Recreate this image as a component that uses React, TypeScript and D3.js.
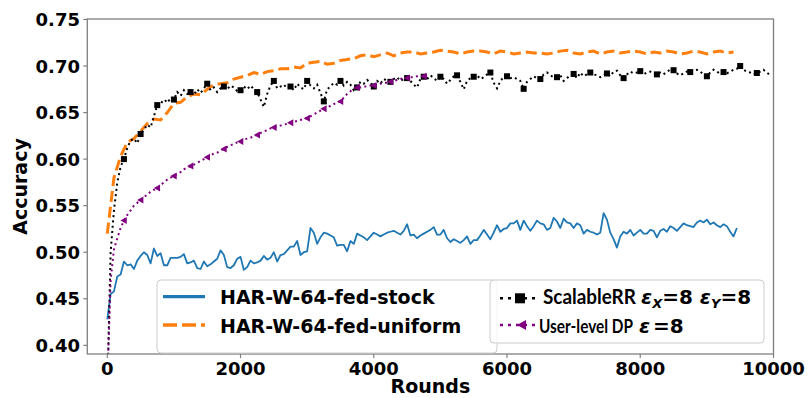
import React, { useLayoutEffect, useRef, useState } from "react";
import * as d3 from "d3";

const W = 809;
const H = 398;

const STEP_FINE = 50;
const STEP_ORANGE = 100;

const stockValues = [
  0.428, 0.455, 0.458, 0.474, 0.476, 0.490, 0.486, 0.487, 0.482, 0.491,
  0.496, 0.500, 0.497, 0.488, 0.504, 0.496, 0.499, 0.486, 0.486, 0.494,
  0.494, 0.494, 0.495, 0.498, 0.488, 0.489, 0.491, 0.483, 0.482, 0.490,
  0.485, 0.487, 0.490, 0.493, 0.502, 0.497, 0.484, 0.483, 0.486, 0.493,
  0.495, 0.481, 0.484, 0.491, 0.488, 0.489, 0.491, 0.496, 0.492, 0.494,
  0.500, 0.490, 0.497, 0.498, 0.502, 0.506, 0.506, 0.512, 0.497, 0.500,
  0.501, 0.526, 0.521, 0.509, 0.516, 0.521, 0.520, 0.518, 0.516, 0.507,
  0.508, 0.508, 0.501, 0.512, 0.509, 0.520, 0.518, 0.516, 0.513, 0.517,
  0.521, 0.519, 0.517, 0.519, 0.521, 0.522, 0.523, 0.521, 0.519, 0.523,
  0.530, 0.518, 0.519, 0.515, 0.518, 0.520, 0.522, 0.524, 0.527, 0.519,
  0.519, 0.524, 0.515, 0.511, 0.514, 0.512, 0.510, 0.513, 0.517, 0.509,
  0.513, 0.513, 0.518, 0.524, 0.519, 0.514, 0.521, 0.529, 0.522, 0.525,
  0.526, 0.531, 0.531, 0.534, 0.524, 0.534, 0.528, 0.523, 0.528, 0.534,
  0.531, 0.530, 0.524, 0.526, 0.537, 0.533, 0.526, 0.536, 0.532, 0.531,
  0.526, 0.531, 0.529, 0.520, 0.524, 0.522, 0.521, 0.519, 0.521, 0.542,
  0.535, 0.521, 0.514, 0.505, 0.517, 0.522, 0.520, 0.524, 0.518, 0.521,
  0.524, 0.520, 0.520, 0.524, 0.523, 0.516, 0.523, 0.525, 0.522, 0.528,
  0.526, 0.523, 0.527, 0.531, 0.529, 0.528, 0.527, 0.532, 0.534, 0.532,
  0.535, 0.530, 0.532, 0.529, 0.527, 0.530, 0.528, 0.522, 0.517, 0.526,
];

const uniformValues = [
  0.520, 0.580, 0.603, 0.618, 0.622, 0.630, 0.638, 0.643, 0.642, 0.650,
  0.660, 0.661, 0.667, 0.670, 0.669, 0.675, 0.680, 0.681, 0.682, 0.686,
  0.688, 0.690, 0.693, 0.691, 0.694, 0.695, 0.697, 0.697, 0.699, 0.698,
  0.703, 0.704, 0.705, 0.702, 0.703, 0.706, 0.707, 0.708, 0.711, 0.712,
  0.710, 0.712, 0.714, 0.711, 0.714, 0.715, 0.715, 0.713, 0.714, 0.715,
  0.717, 0.716, 0.715, 0.713, 0.715, 0.716, 0.716, 0.715, 0.713, 0.716,
  0.715, 0.713, 0.714, 0.715, 0.714, 0.714, 0.713, 0.714, 0.716, 0.717,
  0.714, 0.713, 0.715, 0.716, 0.713, 0.715, 0.716, 0.714, 0.715, 0.716,
  0.715, 0.713, 0.715, 0.714, 0.716, 0.715, 0.713, 0.714, 0.716, 0.715,
  0.713, 0.715, 0.716, 0.714, 0.715,
];

const scalableValues = [
  0.350, 0.500, 0.545, 0.575, 0.592, 0.600, 0.612, 0.620, 0.622, 0.617,
  0.627, 0.632, 0.637, 0.634, 0.646, 0.658, 0.662, 0.660, 0.665, 0.661,
  0.664, 0.672, 0.668, 0.674, 0.670, 0.672, 0.669, 0.675, 0.671, 0.676,
  0.681, 0.674, 0.677, 0.672, 0.676, 0.678, 0.675, 0.679, 0.677, 0.673,
  0.674, 0.678, 0.675, 0.679, 0.675, 0.672, 0.664, 0.656, 0.670, 0.679,
  0.684, 0.676, 0.678, 0.680, 0.676, 0.678, 0.674, 0.681, 0.677, 0.675,
  0.684, 0.679, 0.676, 0.680, 0.671, 0.662, 0.675, 0.678, 0.682, 0.680,
  0.684, 0.679, 0.683, 0.680, 0.674, 0.677, 0.683, 0.681, 0.685, 0.682,
  0.678, 0.684, 0.681, 0.686, 0.684, 0.683, 0.686, 0.688, 0.684, 0.686,
  0.687, 0.684, 0.680, 0.677, 0.686, 0.6885, 0.686, 0.690, 0.687, 0.684,
  0.6885, 0.686, 0.681, 0.685, 0.689, 0.690, 0.683, 0.675, 0.684, 0.687,
  0.6885, 0.690, 0.686, 0.688, 0.691, 0.693, 0.682, 0.676, 0.684, 0.688,
  0.689, 0.687, 0.688, 0.686, 0.684, 0.6755, 0.683, 0.686, 0.689, 0.687,
  0.686, 0.691, 0.693, 0.690, 0.688, 0.688, 0.690, 0.684, 0.687, 0.690,
  0.6915, 0.687, 0.693, 0.689, 0.691, 0.693, 0.691, 0.690, 0.688, 0.690,
  0.692, 0.689, 0.694, 0.695, 0.690, 0.687, 0.691, 0.694, 0.692, 0.693,
  0.6945, 0.691, 0.693, 0.694, 0.692, 0.691, 0.693, 0.691, 0.694, 0.696,
  0.6955, 0.692, 0.690, 0.692, 0.694, 0.6935, 0.695, 0.696, 0.694, 0.691,
  0.689, 0.693, 0.696, 0.694, 0.692, 0.6935, 0.692, 0.694, 0.696, 0.697,
  0.700, 0.696, 0.694, 0.693, 0.691, 0.6925, 0.694, 0.696, 0.693, 0.690,
];

const userDpValues = [
  0.360, 0.470, 0.503, 0.515, 0.526, 0.534, 0.540, 0.545, 0.550, 0.553,
  0.556, 0.559, 0.562, 0.565, 0.567, 0.569, 0.572, 0.575, 0.578, 0.580,
  0.582, 0.584, 0.586, 0.589, 0.591, 0.5925, 0.594, 0.596, 0.598, 0.600,
  0.602, 0.604, 0.606, 0.607, 0.609, 0.611, 0.613, 0.615, 0.616, 0.618,
  0.619, 0.621, 0.622, 0.623, 0.625, 0.626, 0.628, 0.630, 0.631, 0.633,
  0.634, 0.635, 0.636, 0.637, 0.638, 0.639, 0.640, 0.641, 0.642, 0.643,
  0.644, 0.646, 0.648, 0.650, 0.652, 0.654, 0.656, 0.657, 0.659, 0.661,
  0.662, 0.666, 0.670, 0.673, 0.676, 0.677, 0.677, 0.678, 0.678, 0.679,
  0.679, 0.680, 0.681, 0.682, 0.682, 0.683, 0.684, 0.685, 0.686, 0.687,
  0.687, 0.688, 0.688, 0.689, 0.689, 0.689, 0.690,
];

const MARK_EVERY = 5;

const xTicks = [0, 2000, 4000, 6000, 8000, 10000];
const yTicks = [0.40, 0.45, 0.50, 0.55, 0.60, 0.65, 0.70, 0.75];

const legendLabels = [
  "HAR-W-64-fed-stock",
  "HAR-W-64-fed-uniform",
  "ScalableRR",
  "User-level DP",
];

const C_BLUE = "#1f77b4";
const C_ORANGE = "#ff7f0e";
const C_BLACK = "#000000";
const C_PURPLE = "#800080";

const FONT = "'DejaVu Sans', sans-serif";
const FONT2 = "Lato, 'Open Sans', sans-serif";

type P = [number, number];

function toPoints(values: number[], step: number): P[] {
  return values.map((v, i) => [i * step, v] as P);
}

function FitText(props: { x: number; y: number; width: number; size: number; children: string }) {
  const ref = useRef<SVGTextElement>(null);
  const [sx, setSx] = useState(1);
  useLayoutEffect(() => {
    if (ref.current) {
      const w = ref.current.getComputedTextLength();
      if (w > 0) setSx(props.width / w);
    }
  }, [props.width, props.children]);
  return (
    <text
      ref={ref}
      transform={`translate(${props.x},${props.y}) scale(${sx},1)`}
      fontFamily={FONT2}
      fontWeight="bold"
      fontSize={props.size}
      fill="#000"
    >
      {props.children}
    </text>
  );
}

export default function App() {
  const left = 87.3;
  const right = 773.5;
  const top = 19;
  const bottom = 354;

  const x = d3.scaleLinear().domain([-300, 10000]).range([left, right]);
  const y = d3.scaleLinear().domain([0.3907, 0.7505]).range([bottom, top]);

  const line = d3
    .line<P>()
    .x((d) => x(d[0]))
    .y((d) => y(d[1]));

  const stock = toPoints(stockValues, STEP_FINE);
  const uniform = toPoints(uniformValues, STEP_ORANGE);
  const scalable = toPoints(scalableValues, STEP_FINE);
  const userDp = toPoints(userDpValues, STEP_FINE);

  const scalableMarks = scalable.filter((_, i) => i % MARK_EVERY === 0);
  const userMarks = userDp.filter((_, i) => i % MARK_EVERY === 0);

  const sq = 6;
  const tri = (cx: number, cy: number, s: number) =>
    `M${cx - s},${cy} L${cx + s * 0.8},${cy - s} L${cx + s * 0.8},${cy + s} Z`;

  const spine = "#808080";

  return (
    <div style={{ position: "absolute", left: 0, top: 0 }}>
      <svg width={W} height={H} style={{ display: "block", background: "#fff" }}>
        <defs>
          <clipPath id="plotclip">
            <rect x={left} y={top} width={right - left} height={bottom - top} />
          </clipPath>
        </defs>

        <g clipPath="url(#plotclip)">
          <path d={line(stock) || ""} fill="none" stroke={C_BLUE} strokeWidth={1.8} strokeLinejoin="round" />
          <path
            d={line(uniform) || ""}
            fill="none"
            stroke={C_ORANGE}
            strokeWidth={3}
            strokeDasharray="11,5"
          />
          <path
            d={line(scalable) || ""}
            fill="none"
            stroke={C_BLACK}
            strokeWidth={2}
            strokeDasharray="2,3.3"
          />
          {scalableMarks.map((d, i) => (
            <rect
              key={"s" + i}
              x={x(d[0]) - sq / 2}
              y={y(d[1]) - sq / 2}
              width={sq}
              height={sq}
              fill={C_BLACK}
            />
          ))}
          <path
            d={line(userDp) || ""}
            fill="none"
            stroke={C_PURPLE}
            strokeWidth={2}
            strokeDasharray="2,3.3"
          />
          {userMarks.map((d, i) => (
            <path key={"u" + i} d={tri(x(d[0]), y(d[1]), 3.5)} fill={C_PURPLE} />
          ))}
        </g>

        {/* spines */}
        <rect
          x={left}
          y={top}
          width={right - left}
          height={bottom - top}
          fill="none"
          stroke={spine}
          strokeWidth={1.3}
        />

        {/* y ticks */}
        {yTicks.map((t) => (
          <g key={"yt" + t}>
            <line x1={left - 4} x2={left} y1={y(t)} y2={y(t)} stroke={spine} strokeWidth={1.2} />
            <text
              x={80}
              y={y(t) + 6.5}
              textAnchor="end"
              fontFamily={FONT}
              fontWeight="bold"
              fontSize={18}
              fill="#000"
            >
              {t.toFixed(2)}
            </text>
          </g>
        ))}

        {/* x ticks */}
        {xTicks.map((t) => (
          <g key={"xt" + t}>
            <line x1={x(t)} x2={x(t)} y1={bottom} y2={bottom + 4} stroke={spine} strokeWidth={1.2} />
            <text
              x={x(t)}
              y={375}
              textAnchor="middle"
              fontFamily={FONT}
              fontWeight="bold"
              fontSize={18}
              fill="#000"
            >
              {t}
            </text>
          </g>
        ))}

        <text
          x={(left + right) / 2}
          y={393}
          textAnchor="middle"
          fontFamily={FONT}
          fontWeight="bold"
          fontSize={19}
          fill="#000"
        >
          Rounds
        </text>
        <text
          transform={`translate(27,${(top + bottom) / 2}) rotate(-90)`}
          textAnchor="middle"
          fontFamily={FONT}
          fontWeight="bold"
          fontSize={19}
          fill="#000"
        >
          Accuracy
        </text>

        {/* legend 1 */}
        <rect x={157} y={280} width={340} height={73} rx={4} fill="#fff" fillOpacity={0.8} stroke="#cccccc" strokeWidth={1} />
        <line x1={163} x2={205} y1={296.7} y2={296.7} stroke={C_BLUE} strokeWidth={3.3} />
        <line x1={163} x2={205} y1={325} y2={325} stroke={C_ORANGE} strokeWidth={3.3} strokeDasharray="14,5" />
        <text x={220} y={304} fontFamily={FONT} fontWeight="bold" fontSize={19} fill="#000">
          {legendLabels[0]}
        </text>
        <text x={220} y={333} fontFamily={FONT} fontWeight="bold" fontSize={19} fill="#000">
          {legendLabels[1]}
        </text>

        {/* legend 2 */}
        <rect x={490} y={280} width={274} height={63} rx={4} fill="#fff" fillOpacity={0.8} stroke="#cccccc" strokeWidth={1} />
        <line x1={500} x2={537} y1={298.3} y2={298.3} stroke={C_BLACK} strokeWidth={2.5} strokeDasharray="3,5" />
        <rect x={520 - 5} y={298.3 - 5} width={10} height={10} fill={C_BLACK} />
        <line x1={500} x2={537} y1={325} y2={325} stroke={C_PURPLE} strokeWidth={2.5} strokeDasharray="3,5" />
        <path d={tri(522, 325, 5)} fill={C_PURPLE} />
        <FitText x={543} y={304} width={93} size={20}>
          {legendLabels[2]}
        </FitText>
        <text x={641} y={304} fontFamily={FONT} fontWeight="bold" fontSize={20} fill="#000">
          <tspan fontStyle="italic">ε</tspan>
          <tspan fontStyle="italic" fontSize={13} dy={4}>X</tspan>
          <tspan dy={-4}>=8 </tspan>
          <tspan fontStyle="italic">ε</tspan>
          <tspan fontStyle="italic" fontSize={13} dy={4}>Y</tspan>
          <tspan dy={-4}>=8</tspan>
        </text>
        <FitText x={539} y={332.5} width={94} size={19}>
          {legendLabels[3]}
        </FitText>
        <text x={639} y={332.5} fontFamily={FONT} fontWeight="bold" fontStyle="italic" fontSize={20} fill="#000">
          ε
        </text>
        <text x={653} y={332.5} fontFamily={FONT} fontWeight="bold" fontSize={20} fill="#000">
          =8
        </text>
      </svg>
    </div>
  );
}
